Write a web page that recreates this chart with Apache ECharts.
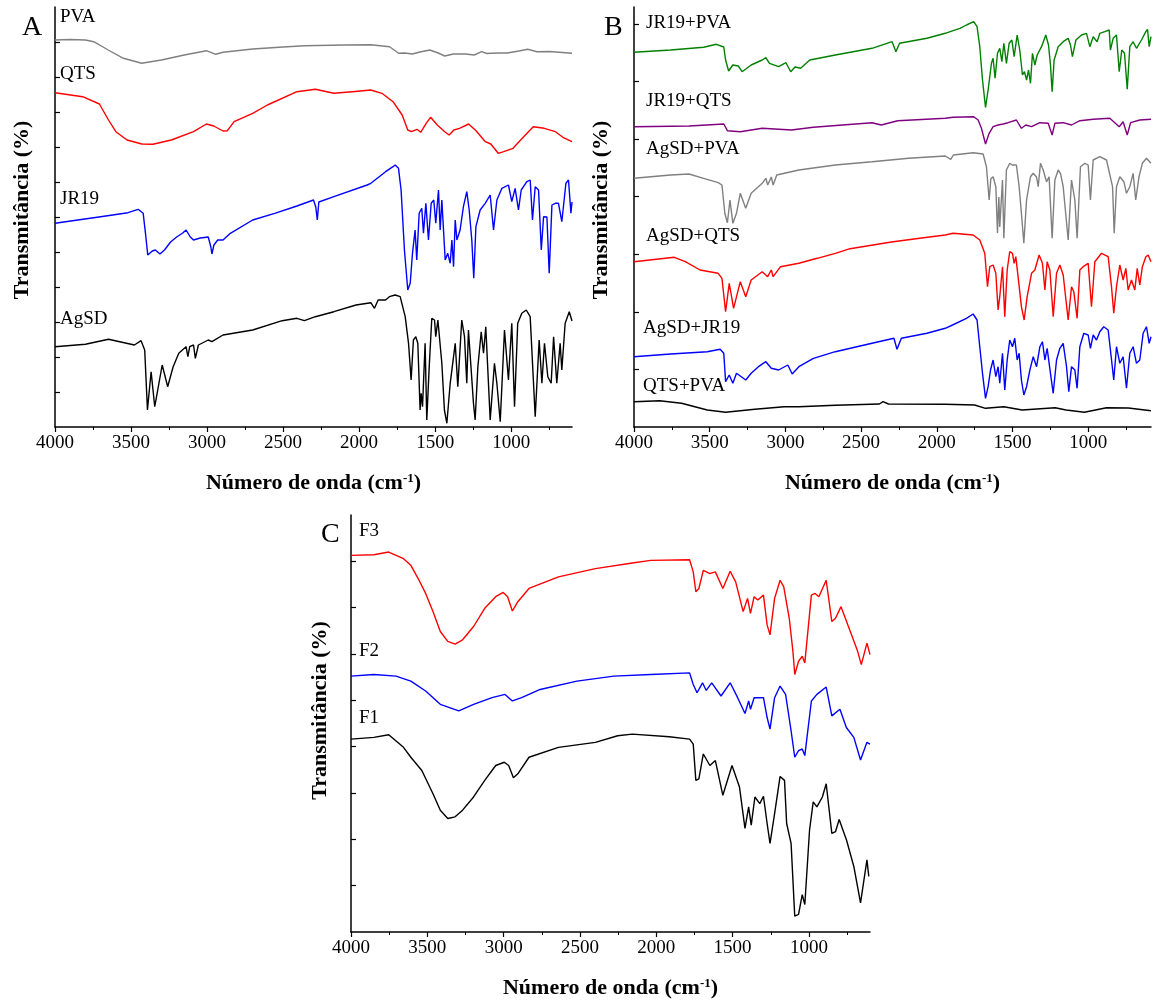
<!DOCTYPE html>
<html>
<head>
<meta charset="utf-8">
<script src="https://cdn.jsdelivr.net/npm/echarts@6/dist/echarts.min.js"></script>
<style>
html, body { margin: 0; padding: 0; background: #fff; }
#chart { width: 1155px; height: 1000px; }
</style>
</head>
<body>
<div id="chart"></div>
<script>
// tick labels (cm-1)
var majorTicks = [4000, 3500, 3000, 2500, 2000, 1500, 1000]
var minorTicks = [3750, 3250, 2750, 2250, 1750, 1250, 750]

// Painel A
var pvaA = [[4000,387],[3900,387.5],[3800,387],[3745,385.3],[3650,377],[3550,368.7],[3430,363.7],[3300,367],[3150,372],[3004,376.3],[2943,372.7],[2895,374.7],[2700,378],[2500,380],[2360,381.3],[2100,382],[1923,382.3],[1800,380.3],[1760,376],[1741,373.7],[1700,374],[1650,373],[1600,375],[1535,377],[1480,374],[1437,371],[1380,373],[1300,373],[1243,372],[1195,375.3],[1160,373.5],[1134,373.7],[1080,374],[1025,374],[950,376],[891,377.7],[830,375.3],[750,375.5],[600,373.7]]
var qtsA = [[4000,334.3],[3818,330.3],[3708,323],[3648,307],[3600,295.3],[3526,287],[3429,283],[3356,282.7],[3235,287],[3089,295.3],[3004,303],[2956,301],[2895,296],[2866,296.3],[2822,305.3],[2700,313.7],[2603,322],[2409,335.3],[2288,337.7],[2166,333.7],[2045,335.3],[1923,337],[1850,333.7],[1777,325.3],[1717,312],[1680,297],[1656,295.3],[1619,297.7],[1595,294.7],[1559,303.7],[1530,309.7],[1486,302],[1437,295.3],[1408,292],[1377,297],[1340,298.7],[1280,303],[1231,296.3],[1170,285.3],[1134,283],[1085,273.7],[1049,275.3],[988,278.7],[927,288.7],[855,300.3],[782,298.7],[709,295.3],[660,289.7],[600,285.3]]
var jr19A = [[4000,203.7],[3700,210.3],[3520,214.3],[3453,217.7],[3420,213.7],[3405,193.7],[3390,172],[3360,176],[3340,177],[3310,173],[3280,177],[3240,185],[3200,190],[3160,194],[3138,197],[3110,190],[3089,187],[3045,189],[2992,190],[2975,180],[2968,173],[2955,182],[2930,187],[2895,187],[2847,193.7],[2700,207],[2555,213.7],[2409,221],[2300,227],[2285,220],[2275,207],[2265,225],[2166,230.3],[1947,242],[1923,243.7],[1826,255.3],[1777,260.3],[1763,262],[1741,258.7],[1724,237],[1702,177],[1680,137],[1664,143.7],[1649,173.7],[1632,197],[1621,167],[1605,213.7],[1588,218.7],[1577,193.7],[1561,223.7],[1544,187],[1526,223.7],[1509,227],[1496,203.7],[1478,237],[1467,197],[1456,227],[1434,167],[1417,173.7],[1401,163.7],[1390,187],[1379,160.3],[1368,207],[1357,187],[1336,197],[1314,220.3],[1292,235.3],[1276,217],[1259,187],[1246,148.7],[1232,200.3],[1204,217],[1171,223.7],[1138,232],[1116,197],[1094,227],[1061,238.7],[1018,242],[996,225.3],[974,238.7],[952,217],[934,237],[897,245.3],[875,247],[860,207],[842,240.3],[820,237],[802,177],[787,210.3],[765,210],[750,153.7],[732,222],[710,223.7],[689,223.7],[667,205.3],[640,243.7],[623,247],[607,213.7],[600,225]]
var agsdA = [[4000,80.3],[3800,82.7],[3648,87.7],[3478,82],[3434,86.3],[3410,77],[3392,17],[3368,55.3],[3344,20.3],[3295,62],[3259,40.3],[3223,60.3],[3186,73.7],[3138,80.3],[3126,70.3],[3114,80.3],[3089,82],[3077,68.7],[3057,82],[2992,87],[2968,85.3],[2895,92],[2700,97],[2506,106.3],[2409,108.7],[2360,106.3],[2288,110.3],[2166,115.3],[2020,122],[1923,124.3],[1899,118.7],[1875,127],[1826,127],[1801,130.3],[1763,132],[1730,130.3],[1697,110.3],[1675,83.7],[1658,47],[1643,87],[1627,90.3],[1614,83.7],[1599,17],[1592,33.7],[1583,20.3],[1566,83.7],[1555,7],[1539,60.3],[1522,108.7],[1504,107],[1496,90.3],[1482,107],[1456,63.7],[1439,17],[1423,3.7],[1401,43.7],[1368,83.7],[1351,40.3],[1325,107],[1307,90.3],[1292,43.7],[1281,97],[1263,57],[1248,23.7],[1237,7],[1219,60.3],[1197,95.3],[1182,73.7],[1167,100.3],[1138,7],[1110,63.7],[1094,43.7],[1072,5.3],[1044,97],[1018,47],[996,103.7],[978,20.3],[957,103.7],[930,113.7],[901,117],[875,110.3],[842,10.3],[816,87],[798,43.7],[781,83.7],[759,50.3],[737,43.7],[721,90.3],[700,43.7],[678,83.7],[667,57],[645,103.7],[618,115.3],[600,106]]

// Painel B
var jr19PvaB = [[4000,374.7],[3758,377],[3540,379.7],[3456,382.7],[3407,380],[3395,367],[3375,356],[3347,362],[3311,361],[3286,355.3],[3226,362],[3153,367],[3129,369.3],[3105,363.7],[3045,360.3],[2996,364.3],[2965,355.3],[2936,360],[2899,358.7],[2839,367],[2670,372],[2428,378.7],[2295,385.3],[2270,375.3],[2246,383.7],[2065,388.7],[1944,393.7],[1892,396.3],[1847,398.7],[1804,402],[1756,405.3],[1734,400.3],[1716,380.3],[1698,347],[1678,319.7],[1661,337],[1639,363.7],[1628,368.7],[1615,348.7],[1599,373.7],[1584,378.7],[1570,365.3],[1557,383.7],[1540,363.7],[1522,383.7],[1504,387],[1489,370.3],[1469,392],[1452,377],[1434,352],[1421,355.3],[1407,347],[1394,357],[1381,343.7],[1368,373.7],[1352,362],[1337,372],[1308,380.3],[1280,392],[1262,382],[1249,362],[1238,335.3],[1225,367],[1198,380.3],[1165,385.3],[1132,388.7],[1117,382],[1104,370.3],[1081,387],[1044,392],[1011,393.7],[989,380.3],[967,390.3],[941,385.3],[923,393.7],[890,395.3],[861,397],[853,377],[835,388.7],[813,392],[795,355.3],[778,377],[760,373.7],[742,337.7],[725,380.3],[703,385.3],[681,378.7],[648,387],[619,395.3],[608,397.7],[597,380.3],[585,390.3]]
var jr19QtsB = [[4000,300.3],[3637,301],[3407,303],[3383,296.3],[3298,295.3],[3153,298.7],[2960,297],[2815,299.7],[2428,304.3],[2367,302],[2258,306.3],[1944,308.7],[1892,309.7],[1756,310.3],[1727,307],[1705,298.7],[1678,283],[1654,293.7],[1628,300.3],[1595,302],[1562,303],[1529,304.3],[1474,307],[1441,298.7],[1412,302],[1374,300.3],[1319,304.3],[1264,303.7],[1238,292],[1220,303.7],[1165,304.3],[1110,302],[1055,306.3],[967,307.7],[857,308.7],[795,300.3],[769,305.3],[742,292],[720,304.3],[659,307],[585,307.7]]
var agsdPvaB = [[4000,248.7],[3758,252],[3637,253],[3540,248.7],[3444,244.3],[3419,242],[3400,213.7],[3383,204.3],[3366,227],[3347,203.7],[3323,213.7],[3298,233.7],[3262,218.7],[3226,233.7],[3153,243.7],[3129,248.7],[3117,242],[3093,250],[3081,242],[3057,252],[2911,257],[2670,262],[2428,265.3],[2186,268.7],[1944,271],[1908,267.7],[1890,272],[1760,274.3],[1694,273],[1672,260.3],[1654,227],[1643,248.3],[1628,250.3],[1610,240.3],[1599,194],[1590,230],[1584,200],[1566,247],[1557,188.7],[1540,257],[1518,263.7],[1502,262],[1489,260.3],[1474,262],[1456,240.3],[1441,213.7],[1425,183.7],[1407,227],[1381,250.3],[1363,253.7],[1341,250],[1330,240.3],[1315,263.7],[1297,257],[1275,245.3],[1258,250.3],[1238,188.7],[1220,247],[1198,257],[1183,253.7],[1165,240.3],[1132,187],[1110,247],[1088,227],[1073,188.7],[1051,260.3],[1022,263.7],[1000,262],[985,227],[967,267],[923,270.3],[879,267],[839,240.3],[828,193.7],[813,240.3],[791,250.3],[764,245.3],[747,233.7],[725,240.3],[703,253.7],[686,227],[664,250.3],[642,263.7],[615,268.7],[585,263.7]]
var agsdQtsB = [[4000,165.3],[3734,169.7],[3661,165.3],[3564,157],[3444,153.7],[3419,148.7],[3395,115.3],[3371,143.7],[3342,118.7],[3298,145.3],[3262,130.3],[3226,147],[3153,155.3],[3117,150.3],[3093,157],[3081,150.3],[3032,160.3],[2911,163.7],[2790,168.7],[2670,173.7],[2573,178.3],[2300,185],[2100,189],[1944,192],[1892,193.7],[1760,192],[1716,187],[1683,173.7],[1665,140.3],[1650,160.3],[1628,162],[1610,153.7],[1595,117],[1584,130.3],[1566,160.3],[1551,110.3],[1535,157],[1518,175.3],[1500,173.7],[1489,163.7],[1478,170.3],[1463,150.3],[1441,120.3],[1423,107],[1403,130.3],[1374,153.7],[1352,157],[1324,172],[1302,163.7],[1286,137],[1271,165.3],[1253,157],[1231,110.3],[1209,153.7],[1187,162],[1165,152],[1132,107],[1110,140.3],[1095,135.3],[1073,108.7],[1055,157],[1033,160.3],[1000,163.7],[978,120.3],[956,165.3],[912,173.7],[868,170.3],[846,140.3],[831,113.7],[813,140.3],[791,162],[769,147],[751,158.7],[736,137],[714,147],[692,137],[676,158.7],[659,142],[642,160.3],[619,170.3],[604,172],[585,165.3]]
var agsdJr19B = [[4000,70.3],[3758,73],[3516,75.3],[3431,77.7],[3407,73.7],[3395,45.3],[3371,52],[3347,43.7],[3323,53.7],[3262,47],[3226,53.7],[3178,60.3],[3129,65.3],[3093,58.7],[3045,57],[2984,62],[2955,53],[2911,60.3],[2815,68.7],[2670,75.3],[2428,83.7],[2283,88.7],[2263,77.7],[2234,88.7],[2065,93.7],[1944,98.7],[1896,102],[1804,108.7],[1760,113],[1734,107],[1716,80.3],[1698,53.7],[1678,28.7],[1661,40.3],[1645,57],[1628,67],[1610,50.3],[1595,60.3],[1584,43.7],[1566,73.7],[1551,37],[1535,67],[1518,87],[1500,80.3],[1485,88.7],[1469,67],[1456,73.7],[1441,47],[1425,32],[1407,40.3],[1385,57],[1363,70.3],[1341,60.3],[1319,80.3],[1302,85.3],[1286,67],[1271,78.7],[1249,53.7],[1231,33.7],[1209,67],[1187,78.7],[1165,83.7],[1143,60.3],[1128,35.3],[1110,60.3],[1088,57],[1073,38.7],[1055,80.3],[1029,93.7],[1000,92],[985,78.7],[967,92],[945,87],[923,95.3],[897,100.3],[868,97],[853,77],[831,47],[813,80.3],[791,63.7],[769,70.3],[747,38.7],[725,73.7],[703,80.3],[681,63.7],[659,67],[637,93.7],[615,100.3],[597,83.7],[585,90.3]]
var qtsPvaB = [[4000,25.3],[3831,26.3],[3686,23.7],[3516,17],[3395,14.7],[3202,17.7],[3008,20.3],[2911,20.3],[2670,21.7],[2379,23],[2355,25.3],[2319,23],[1944,22.7],[1750,22],[1678,18.7],[1557,20.3],[1436,17],[1218,19.3],[1146,17],[1025,14.7],[879,19.3],[734,19],[585,16.3]]

// Painel C
var f3C = [[4000,379.3],[3850,380],[3753,382.7],[3656,376],[3608,369.3],[3560,356],[3511,341],[3463,322.7],[3415,302.7],[3366,292.7],[3318,290],[3269,294.3],[3197,307.7],[3124,326],[3052,337.7],[3003,342],[2974,337.7],[2943,323.3],[2907,332.7],[2834,346],[2641,357.7],[2399,366],[2157,371.7],[2036,374.3],[1782,375],[1758,362.7],[1741,342.7],[1721,346],[1692,364.3],[1649,361],[1613,362.7],[1564,346],[1516,363.3],[1480,352.7],[1431,322.7],[1402,336],[1383,321],[1359,337.7],[1335,334.3],[1298,339.3],[1274,309.3],[1255,299.3],[1225,336],[1189,354.3],[1165,347.7],[1129,316],[1105,282.7],[1093,259.3],[1068,272.7],[1044,277.7],[1027,271],[984,339.3],[960,341],[935,337.7],[887,354.3],[850,312.7],[826,316],[790,327.7],[729,302.7],[681,282.7],[657,269.3],[620,291],[600,279.3]]
var f2C = [[4000,257.7],[3850,259.3],[3705,257.7],[3608,252.7],[3511,242.7],[3415,229.3],[3294,222.7],[3197,229.3],[3076,236],[2991,239.3],[2943,232.7],[2882,236],[2761,244.3],[2520,252.7],[2278,257.7],[2036,259.3],[1782,261],[1758,249.3],[1733,241],[1697,251],[1673,243.3],[1637,251],[1576,237.7],[1516,251],[1467,236],[1419,220],[1395,232.7],[1383,224.3],[1359,236],[1298,236],[1274,216],[1255,204.3],[1225,236],[1189,247.7],[1153,239.3],[1117,202.7],[1093,176],[1068,182.7],[1044,184.3],[1027,177.7],[984,232.7],[948,239.3],[887,246.7],[850,217.7],[797,224.3],[755,206],[706,196],[662,173.3],[620,191],[600,189.3]]
var f1C = [[4000,194.3],[3850,196],[3753,198.7],[3656,186],[3608,176],[3536,162.7],[3463,139.3],[3415,122.7],[3366,114.3],[3318,116],[3269,122.7],[3197,136],[3124,152.7],[3052,167.7],[2996,171],[2967,167.7],[2936,155.3],[2907,159.3],[2834,176],[2641,186],[2399,191],[2253,197.7],[2157,199.3],[1915,196.7],[1782,194.3],[1758,189.3],[1741,152.7],[1721,154.3],[1692,179.3],[1649,167.7],[1613,172.7],[1564,137.7],[1504,167.7],[1455,146],[1419,104.3],[1395,126],[1378,107.7],[1354,136],[1322,129.3],[1298,136.7],[1274,109.3],[1255,89.3],[1225,119.3],[1189,156.7],[1160,152.7],[1146,109.3],[1117,89.3],[1093,16],[1068,17.7],[1044,37.7],[1027,27.7],[996,102.7],[972,131],[948,126],[912,136],[887,149.3],[850,99.3],[826,101],[802,113.3],[754,92.7],[706,66],[662,29.3],[620,72.7],[608,56]]

var serif = "'Liberation Serif', 'Times New Roman', serif"

var grids = [
    { left: 55, top: 7, width: 517, height: 420 },
    { left: 634, top: 7, width: 517, height: 420 },
    { left: 351, top: 515, width: 519, height: 420 }
]
var xMin = [600, 585, 600]
// y tick spacing of each panel
var yStep = [35, 57.6, 46.67]

function makeX(gi) {
    return {
        type: 'value', gridIndex: gi, min: xMin[gi], max: 4000, inverse: true, position: 'bottom',
        name: 'Número de onda (cm{sup|-1})',
        nameLocation: 'middle', nameGap: 45,
        nameTextStyle: {
            fontFamily: serif, fontWeight: 'bold', fontSize: 22, color: '#000',
            rich: { sup: { fontFamily: serif, fontWeight: 'bold', fontSize: 13, verticalAlign: 'top', color: '#000' } }
        },
        axisLine: { lineStyle: { color: '#000', width: 1.5 } },
        axisTick: { customValues: majorTicks, length: 5, lineStyle: { color: '#000', width: 1.2 } },
        axisLabel: {
            customValues: majorTicks, margin: 7, fontFamily: serif, fontSize: 19, color: '#000',
            formatter: function(v) { return String(v) }
        },
        splitLine: { show: false }
    }
}
function makeMinorX(gi) {
    return {
        type: 'value', gridIndex: gi, min: xMin[gi], max: 4000, inverse: true, position: 'bottom',
        axisLine: { show: false },
        axisTick: { customValues: minorTicks, length: 3, lineStyle: { color: '#000', width: 1 } },
        axisLabel: { show: false },
        splitLine: { show: false }
    }
}
function makeY(gi, nameGap, shift) {
    var ticks = []
    for (var k = 1; yStep[gi] * k < 415; k++) ticks.push(+(yStep[gi] * k).toFixed(2))
    return {
        type: 'value', gridIndex: gi, min: 0, max: 420,
        name: 'Transmitância (%)', nameLocation: 'middle', nameGap: nameGap,
        nameTextStyle: { fontFamily: serif, fontWeight: 'bold', fontSize: 22, color: '#000', padding: [0, 0, 0, shift] },
        axisLine: { show: true, lineStyle: { color: '#000', width: 1.5 } },
        axisTick: { show: true, inside: true, customValues: ticks, length: 5, lineStyle: { color: '#000', width: 1.2 } },
        axisLabel: { show: false },
        splitLine: { show: false }
    }
}

function line(data, color, gi) {
    return {
        type: 'line', data: data, xAxisIndex: gi, yAxisIndex: gi,
        showSymbol: false, symbol: 'none', animation: false, silent: true,
        lineStyle: { color: color, width: 1.4 }
    }
}

function label(text, x, y, size) {
    return { type: 'text', left: x, top: y, style: { text: text, fontFamily: serif, fontSize: size || 19, fill: '#000' } }
}

var option = {
    backgroundColor: '#fff',
    animation: false,
    grid: grids,
    xAxis: [makeX(0), makeX(1), makeX(2), makeMinorX(0), makeMinorX(1), makeMinorX(2)],
    yAxis: [makeY(0, 22, 14), makeY(1, 22, 14), makeY(2, 20, 26)],
    series: [
        line(pvaA, '#808080', 0),
        line(qtsA, '#ff0000', 0),
        line(jr19A, '#0000ff', 0),
        line(agsdA, '#000000', 0),
        line(jr19PvaB, '#008000', 1),
        line(jr19QtsB, '#800080', 1),
        line(agsdPvaB, '#808080', 1),
        line(agsdQtsB, '#ff0000', 1),
        line(agsdJr19B, '#0000ff', 1),
        line(qtsPvaB, '#000000', 1),
        line(f3C, '#ff0000', 2),
        line(f2C, '#0000ff', 2),
        line(f1C, '#000000', 2)
    ],
    graphic: [
        label('A', 22, 14, 28),
        label('B', 604, 14, 28),
        label('C', 321, 521, 28),
        label('PVA', 60, 8),
        label('QTS', 60, 65),
        label('JR19', 60, 190),
        label('AgSD', 60, 310),
        label('JR19+PVA', 646, 14),
        label('JR19+QTS', 646, 92),
        label('AgSD+PVA', 646, 140),
        label('AgSD+QTS', 646, 227),
        label('AgSD+JR19', 643, 319),
        label('QTS+PVA', 643, 377),
        label('F3', 359, 522),
        label('F2', 359, 642),
        label('F1', 359, 709)
    ]
}

var myChart = echarts.init(document.getElementById('chart'), null, { renderer: 'canvas' })
myChart.setOption(option)
window.addEventListener('resize', function() {
    myChart.resize()
})
</script>
</body>
</html>
